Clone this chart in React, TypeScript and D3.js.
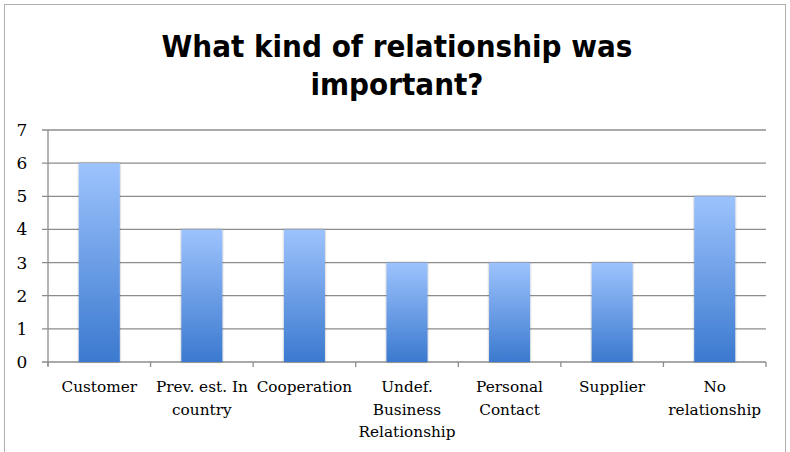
import React from 'react';
import * as d3 from 'd3';

const categories: string[][] = [
  ['Customer'],
  ['Prev. est. In', 'country'],
  ['Cooperation'],
  ['Undef.', 'Business', 'Relationship'],
  ['Personal', 'Contact'],
  ['Supplier'],
  ['No', 'relationship'],
];
const values: number[] = [6, 4, 4, 3, 3, 3, 5];
const yTicks: number[] = [0, 1, 2, 3, 4, 5, 6, 7];
const titleLines: string[] = ['What kind of relationship was', 'important?'];

export default function App() {
  const W = 790, H = 452;
  const left = 48, right = 766, top = 130, bottom = 362;
  const x = d3.scaleBand<number>().domain(d3.range(categories.length)).range([left, right]).paddingInner(0.6).paddingOuter(0.3);
  const xb = d3.scaleBand<number>().domain(d3.range(categories.length)).range([left, right]);
  const y = d3.scaleLinear().domain([0, 7]).range([bottom, top]);
  const serif = '"DejaVu Serif", "Liberation Serif", serif';
  return (
    <svg width={W} height={H} style={{ position: 'absolute', left: 0, top: 0, background: '#fff' }}>
      <defs>
        <linearGradient id="barg" x1="0" y1="0" x2="0" y2="1">
          <stop offset="0%" stopColor="#9dc3fd" />
          <stop offset="100%" stopColor="#3b79cf" />
        </linearGradient>
        <filter id="sh" x="-20%" y="-5%" width="140%" height="110%">
          <feGaussianBlur in="SourceAlpha" stdDeviation="1.2" />
          <feOffset dx="0" dy="0" result="b" />
          <feComponentTransfer><feFuncA type="linear" slope="0.35" /></feComponentTransfer>
          <feMerge><feMergeNode /><feMergeNode in="SourceGraphic" /></feMerge>
        </filter>
      </defs>
      <rect x={4.5} y={4.5} width={781} height={470} fill="#fff" stroke="#b0b0b0" strokeWidth={1} />
      {titleLines.map((t, i) => (
        <text key={i} x={397} y={57 + i * 38} textAnchor="middle"
          style={{ font: 'bold 31px "Liberation Sans Narrow", "DejaVu Sans Condensed", sans-serif' }} fill="#000">{t}</text>
      ))}
      {yTicks.map(t => (
        <g key={t}>
          <line x1={42} x2={right} y1={y(t)} y2={y(t)} stroke="#8c8c8c" strokeWidth={1.3} />
          <text x={22} y={y(t) + 6} textAnchor="middle" style={{ font: `17px ${serif}` }} fill="#000">{t}</text>
        </g>
      ))}
      <line x1={left} x2={left} y1={top} y2={bottom + 4} stroke="#8c8c8c" strokeWidth={1.3} />
      {d3.range(categories.length + 1).map(i => {
        const xx = i < categories.length ? xb(i)! : right;
        return <line key={i} x1={xx} x2={xx} y1={bottom} y2={bottom + 5} stroke="#8c8c8c" strokeWidth={1.3} />;
      })}
      {values.map((v, i) => (
        <rect key={i} x={x(i)} y={y(v)} width={x.bandwidth()} height={bottom - y(v)} fill="url(#barg)" filter="url(#sh)" />
      ))}
      {categories.map((lines, i) => (
        <text key={i} x={xb(i)! + xb.bandwidth() / 2} textAnchor="middle" style={{ font: `15.3px ${serif}` }} fill="#000">
          {lines.map((l, j) => (
            <tspan key={j} x={xb(i)! + xb.bandwidth() / 2} y={392 + j * 22.5}>{l}</tspan>
          ))}
        </text>
      ))}
    </svg>
  );
}
